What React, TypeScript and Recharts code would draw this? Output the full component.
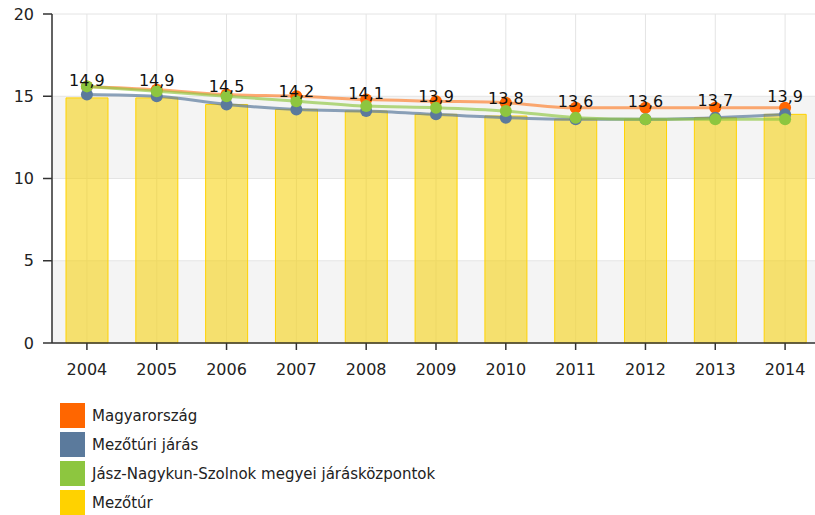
import React from 'react';
import {
  ComposedChart,
  Bar,
  Line,
  XAxis,
  YAxis,
  CartesianGrid,
  LabelList
} from 'recharts';

const years = ['2004', '2005', '2006', '2007', '2008', '2009', '2010', '2011', '2012', '2013', '2014'];
const magyarorszag = [15.6, 15.4, 15.1, 15.0, 14.8, 14.7, 14.6, 14.3, 14.3, 14.3, 14.3];
const mezoturiJaras = [15.1, 15.0, 14.5, 14.2, 14.1, 13.9, 13.7, 13.6, 13.6, 13.7, 13.9];
const jaraskozpontok = [15.6, 15.3, 15.0, 14.7, 14.4, 14.3, 14.1, 13.7, 13.6, 13.6, 13.6];
const mezotur = [14.9, 14.9, 14.5, 14.2, 14.1, 13.9, 13.8, 13.6, 13.6, 13.7, 13.9];
const yTicks = [0, 5, 10, 15, 20];

const data = years.map((year, i) => ({
  year,
  magyarorszag: magyarorszag[i],
  mezoturiJaras: mezoturiJaras[i],
  jaraskozpontok: jaraskozpontok[i],
  mezotur: mezotur[i]
}));

// colours
const COLORS = {
  magyarorszag: '#FF6600',
  mezoturiJaras: '#5B7A9C',
  jaraskozpontok: '#8DC63F',
  mezotur: '#FFD200'
};

const legendItems = [
  { name: 'Magyarország', color: COLORS.magyarorszag },
  { name: 'Mezőtúri járás', color: COLORS.mezoturiJaras },
  { name: 'Jász-Nagykun-Szolnok megyei járásközpontok', color: COLORS.jaraskozpontok },
  { name: 'Mezőtúr', color: COLORS.mezotur }
];

const FONT = '"DejaVu Sans", Verdana, sans-serif';
const fmt = (v: any) => Number(v).toFixed(1).replace('.', ',');

export default function App() {
  return (
    <div
      style={{
        position: 'absolute',
        left: 0,
        top: 0,
        width: 815,
        height: 515,
        overflow: 'hidden',
        background: '#fff',
        fontFamily: FONT
      }}
    >
      <ComposedChart
        width={820}
        height={395}
        data={data}
        margin={{ top: 14, right: 0, left: 0, bottom: 12 }}
      >
        <CartesianGrid
          stroke="#e4e4e4"
          horizontalFill={['#ffffff', '#f4f4f4']}
          fillOpacity={1}
        />
        <XAxis
          dataKey="year"
          height={40}
          stroke="#333"
          strokeWidth={1.5}
          tickSize={7}
          tickMargin={14}
          tick={{ fill: '#222', fontSize: 16, fontFamily: FONT }}
        />
        <YAxis
          width={52}
          domain={[0, 20]}
          ticks={yTicks}
          stroke="#333"
          strokeWidth={1.5}
          tickSize={9}
          tickMargin={9}
          tick={{ fill: '#222', fontSize: 16, fontFamily: FONT }}
        />
        <Bar
          dataKey="mezotur"
          barSize={42}
          fill="#F5D000"
          fillOpacity={0.55}
          stroke={COLORS.mezotur}
          strokeWidth={1}
          isAnimationActive={false}
        />
        <Line
          type="monotone"
          dataKey="magyarorszag"
          stroke={COLORS.magyarorszag}
          strokeOpacity={0.55}
          strokeWidth={3}
          dot={{ r: 6, fill: COLORS.magyarorszag, stroke: 'none' }}
          activeDot={false}
          isAnimationActive={false}
        />
        <Line
          type="monotone"
          dataKey="mezoturiJaras"
          stroke={COLORS.mezoturiJaras}
          strokeOpacity={0.7}
          strokeWidth={3}
          dot={{ r: 6, fill: COLORS.mezoturiJaras, stroke: 'none' }}
          activeDot={false}
          isAnimationActive={false}
        />
        <Line
          type="monotone"
          dataKey="jaraskozpontok"
          stroke={COLORS.jaraskozpontok}
          strokeOpacity={0.65}
          strokeWidth={3}
          dot={{ r: 6, fill: COLORS.jaraskozpontok, stroke: 'none' }}
          activeDot={false}
          isAnimationActive={false}
        />
        {/* invisible series only to put the bar values on top of everything */}
        <Line
          dataKey="mezotur"
          stroke="none"
          dot={false}
          activeDot={false}
          legendType="none"
          isAnimationActive={false}
        >
          <LabelList
            dataKey="mezotur"
            position="top"
            offset={12}
            formatter={fmt}
            style={{ fill: '#111', fontSize: 16, fontFamily: FONT }}
          />
        </Line>
      </ComposedChart>

      <div style={{ position: 'absolute', left: 60, top: 403 }}>
        {legendItems.map((item) => (
          <div
            key={item.name}
            style={{ display: 'flex', alignItems: 'center', height: 25, marginBottom: 4 }}
          >
            <div style={{ width: 25, height: 25, background: item.color }} />
            <span style={{ marginLeft: 7, fontSize: 15, color: '#222' }}>{item.name}</span>
          </div>
        ))}
      </div>
    </div>
  );
}
